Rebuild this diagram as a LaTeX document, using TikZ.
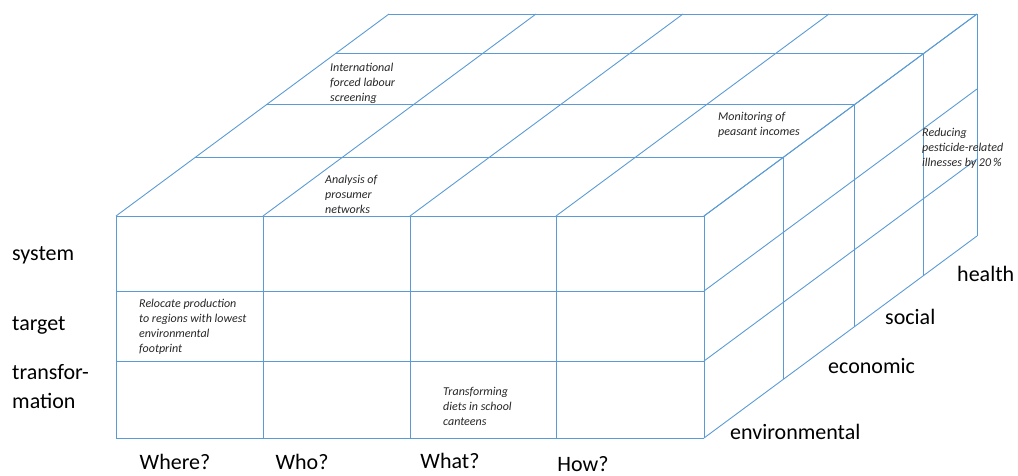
\documentclass[tikz,border=0pt]{standalone}
\usepackage{fontspec}
\setmainfont{Carlito}
\definecolor{gridblue}{HTML}{5B9BD5}
\begin{document}
\begin{tikzpicture}[x=1pt,y=-1pt,
  grid/.style={draw=gridblue, line width=0.9pt},
  lab/.style={font=\fontsize{22}{29}\selectfont, text=black, inner sep=0pt, align=left},
  note/.style={font=\fontsize{12}{15}\selectfont\itshape, text=black!85, inner sep=0pt, align=left, anchor=north west}]
\useasboundingbox (0,0) rectangle (1018,475);
% front face
\foreach \x in {116,263,410,556,704} \draw[grid] (\x,216) -- (\x,438);
\foreach \y in {216,291,361,438} \draw[grid] (116,\y) -- (704,\y);
% top face
\foreach \x in {116,263,410,556,704} \draw[grid] (\x,216) -- ++(273,-202);
\foreach \f in {0.29,0.55,0.805,1} \draw[grid] ({116+273*\f},{216-202*\f}) -- ({704+273*\f},{216-202*\f});
% right face
\foreach \y in {216,291,361,438} \draw[grid] (704,\y) -- ++(273,-202);
\foreach \f in {0.29,0.55,0.805,1} \draw[grid] ({704+273*\f},{216-202*\f}) -- ({704+273*\f},{438-202*\f});
% row labels
\node[lab, anchor=west] (system) at (12,255) {system};
\node[lab, anchor=west] (target) at (12,325) {target};
\node[lab, anchor=north west] (transf) at (12,364) {transfor-\\mation};
% column labels
\node[lab] (where) at (175,462) {Where?};
\node[lab] (who) at (302,462) {Who?};
\node[lab] (what) at (450,461) {What?};
\node[lab] (how) at (583,464) {How?};
% depth labels
\node[lab, anchor=west] (health) at (957,274) {health};
\node[lab, anchor=west] (social) at (885,317) {social};
\node[lab, anchor=west] (economic) at (828,366) {economic};
\node[lab, anchor=west] (environmental) at (730,432) {environmental};
% notes
\node[note] (ilo) at (330,63) {International\\forced labour\\screening};
\node[note] (prosumer) at (325,175) {Analysis of\\prosumer\\networks};
\node[note] (peasant) at (718,112) {Monitoring of\\peasant incomes};
\node[note] (pesticide) at (922,128) {Reducing\\pesticide-related\\illnesses by 20\,\%};
\node[note] (relocate) at (139,299) {Relocate production\\to regions with lowest\\environmental\\footprint};
\node[note] (diets) at (443,387) {Transforming\\diets in school\\canteens};
\end{tikzpicture}
\end{document}
